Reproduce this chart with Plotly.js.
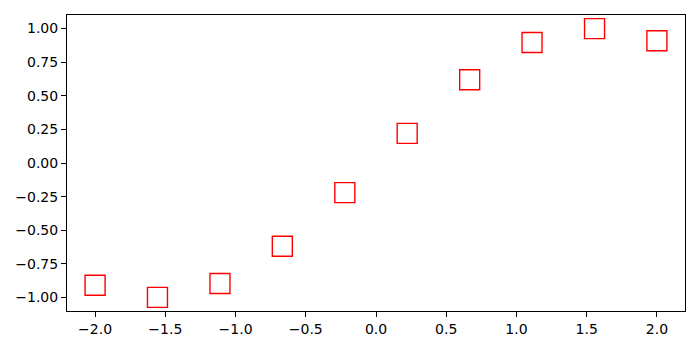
<!DOCTYPE html>
<html><head><meta charset="utf-8">
<script src="https://cdn.plot.ly/plotly-3.0.1.min.js"></script>
<style>body{margin:0;padding:0;background:#fff}#chart{width:700px;height:350px}</style>
</head><body><div id="chart"></div>
<script>
const xValues = [-2.0, -1.556, -1.111, -0.667, -0.222, 0.222, 0.667, 1.111, 1.556, 2.0];
const yValues = [-0.909, -0.999, -0.896, -0.619, -0.220, 0.220, 0.619, 0.896, 0.999, 0.909];
const xTicks = [-2.0, -1.5, -1.0, -0.5, 0.0, 0.5, 1.0, 1.5, 2.0];
const xTickLabels = ['\u22122.0', '\u22121.5', '\u22121.0', '\u22120.5', '0.0', '0.5', '1.0', '1.5', '2.0'];
const yTicks = [-1.0, -0.75, -0.5, -0.25, 0.0, 0.25, 0.5, 0.75, 1.0];
const yTickLabels = ['\u22121.00', '\u22120.75', '\u22120.50', '\u22120.25', '0.00', '0.25', '0.50', '0.75', '1.00'];

const trace = {
  x: xValues, y: yValues, mode: 'markers', type: 'scatter',
  marker: {symbol: 'square-open', size: 20, color: 'red', line: {color: 'red', width: 1.4}}
};
const axisCommon = {
  showgrid: false, zeroline: false, showline: true, mirror: true,
  linecolor: 'black', linewidth: 1, ticks: 'outside', ticklen: 5, tickwidth: 1, tickcolor: 'black',
  tickfont: {family: 'DejaVu Sans', size: 14, color: 'black'}
};
const layout = {
  width: 700, height: 350,
  margin: {l: 67, r: 15, t: 15, b: 39},
  paper_bgcolor: 'white', plot_bgcolor: 'white',
  showlegend: false,
  xaxis: Object.assign({}, axisCommon, {range: [-2.2, 2.2], tickmode: 'array', tickvals: xTicks, ticktext: xTickLabels}),
  yaxis: Object.assign({}, axisCommon, {range: [-1.0999, 1.0999], tickmode: 'array', tickvals: yTicks, ticktext: yTickLabels})
};
Plotly.newPlot('chart', [trace], layout, {staticPlot: true});
</script></body></html>
